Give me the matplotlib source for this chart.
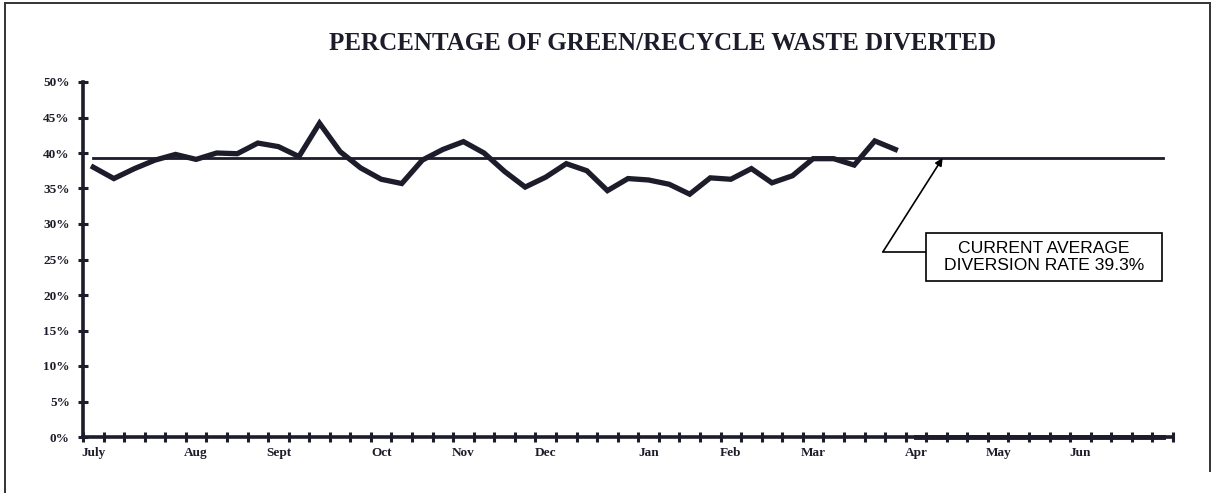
import matplotlib.pyplot as plt
from matplotlib.lines import Line2D
from matplotlib.patches import Rectangle
from matplotlib.ticker import FixedLocator, FuncFormatter

# weekly diversion rate (%) from the start of July
week_pct = [38.0, 36.4, 37.8, 39.0, 39.8, 39.1, 40.0, 39.9, 41.4, 40.9,
            39.5, 44.2, 40.2, 37.9, 36.3, 35.7, 39.0, 40.5, 41.6, 40.0,
            37.4, 35.2, 36.6, 38.5, 37.5, 34.7, 36.4, 36.2, 35.6, 34.2,
            36.5, 36.3, 37.8, 35.8, 36.8, 39.2, 39.2, 38.3, 41.7, 40.5]
# weeks not yet reported
future_pct = [0.0] * 13
avg_rate = 39.3

month_names = ['July', 'Aug', 'Sept', 'Oct', 'Nov', 'Dec',
               'Jan', 'Feb', 'Mar', 'Apr', 'May', 'Jun']
month_start_week = [0, 5, 9, 14, 18, 22, 27, 31, 35, 40, 44, 48]

n_weeks = len(week_pct) + len(future_pct)
ink = '#1c1c2a'

fig = plt.figure(figsize=(12.16, 4.93), dpi=100)
ax = fig.add_axes([83 / 1216, 56 / 493, 1090 / 1216, 355 / 493])

x_rep = list(range(len(week_pct)))
x_fut = list(range(len(week_pct), n_weeks))
ax.plot(x_rep, week_pct, color=ink, lw=3.8, solid_joinstyle='miter', zorder=4)
ax.plot(x_fut, future_pct, color=ink, lw=3.5, clip_on=False, zorder=4)
ax.plot([0, n_weeks - 1], [avg_rate, avg_rate], color=ink, lw=2.0, zorder=3)

ax.set_xlim(-0.5, n_weeks - 0.5)
ax.set_ylim(0, 50)

for side in ['top', 'right']:
    ax.spines[side].set_visible(False)
for side in ['left', 'bottom']:
    ax.spines[side].set_linewidth(2.6)
    ax.spines[side].set_color(ink)

ax.set_yticks(range(0, 51, 5))
ax.yaxis.set_major_formatter(FuncFormatter(lambda v, p: '%d%%' % v))
ax.tick_params(axis='y', direction='inout', length=7, width=2.2, color=ink,
               pad=6, labelsize=9.5)

ax.xaxis.set_minor_locator(FixedLocator([i - 0.5 for i in range(n_weeks + 1)]))
ax.set_xticks(month_start_week)
ax.set_xticklabels(month_names)
ax.tick_params(axis='x', which='major', length=0, pad=7, labelsize=9.5)
ax.tick_params(axis='x', which='minor', direction='inout', length=7,
               width=2.2, color=ink)

for lbl in ax.get_xticklabels() + ax.get_yticklabels():
    lbl.set_fontfamily('Liberation Serif')
    lbl.set_fontweight('bold')
    lbl.set_color(ink)

fig.text(0.545, 0.912, 'PERCENTAGE OF GREEN/RECYCLE WASTE DIVERTED',
         ha='center', va='center', fontsize=18, fontweight='bold',
         family='Liberation Serif', color=ink)

# callout pointing at the average line
elbow = (38.4, 26.1)
box_x0, box_x1 = 40.5, 51.95
box_y0, box_y1 = 22.0, 28.7
ax.add_patch(Rectangle((box_x0, box_y0), box_x1 - box_x0, box_y1 - box_y0,
                       fc='white', ec='black', lw=1.2, zorder=5))
ax.text((box_x0 + box_x1) / 2, (box_y0 + box_y1) / 2,
        'CURRENT AVERAGE\nDIVERSION RATE 39.3%',
        ha='center', va='center', fontsize=12.6, family='Liberation Sans',
        color='black', linespacing=1.2, zorder=6)
ax.plot([elbow[0], box_x0], [elbow[1], elbow[1]], color='black', lw=1.2,
        zorder=4)
ax.annotate('', xy=(41.3, avg_rate), xytext=elbow,
            arrowprops=dict(arrowstyle='-|>', color='black', lw=1.2,
                            mutation_scale=11, shrinkA=0, shrinkB=0))

# page frame
fig.add_artist(Line2D([5 / 1216, 5 / 1216], [0, 1 - 3 / 493],
                      transform=fig.transFigure, color='#333333', lw=1.4))
fig.add_artist(Line2D([5 / 1216, 1210 / 1216], [1 - 3 / 493, 1 - 3 / 493],
                      transform=fig.transFigure, color='#333333', lw=1.4))
fig.add_artist(Line2D([1210 / 1216, 1210 / 1216], [0.045, 1 - 3 / 493],
                      transform=fig.transFigure, color='#333333', lw=1.4))

fig.savefig('out.png', dpi=100)
